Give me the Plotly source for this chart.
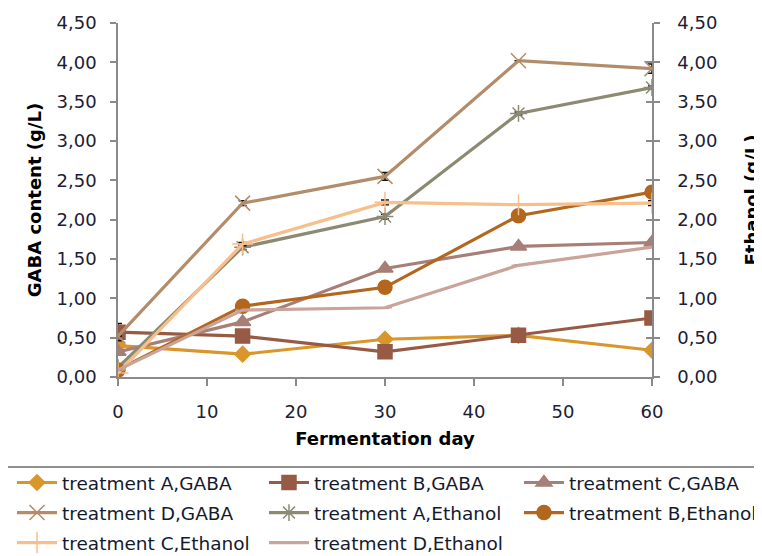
import plotly.graph_objects as go

days = [0, 14, 30, 45, 60]

gaba_a = [0.40, 0.29, 0.48, 0.53, 0.34]
gaba_b = [0.57, 0.52, 0.32, 0.53, 0.75]
gaba_c = [0.32, 0.70, 1.38, 1.66, 1.71]
gaba_d = [0.52, 2.21, 2.55, 4.02, 3.92]
eth_a = [0.12, 1.65, 2.04, 3.35, 3.68]
eth_b = [0.09, 0.90, 1.14, 2.05, 2.35]
eth_c = [0.05, 1.69, 2.22, 2.19, 2.21]
eth_d = [0.09, 0.85, 0.88, 1.42, 1.65]

err_gaba_a = [0.0, 0.02, 0.0, 0.0, 0.0]
err_gaba_b = [0.11, 0.0, 0.0, 0.0, 0.0]
err_gaba_c = [0.0, 0.0, 0.0, 0.0, 0.03]
err_gaba_d = [0.0, 0.03, 0.05, 0.0, 0.06]
err_eth_a = [0.0, 0.03, 0.03, 0.02, 0.02]
err_eth_b = [0.0, 0.0, 0.0, 0.0, 0.0]
err_eth_c = [0.0, 0.02, 0.03, 0.0, 0.03]
err_eth_d = [0.0, 0.0, 0.0, 0.0, 0.0]

names = ["treatment A,GABA", "treatment B,GABA", "treatment C,GABA", "treatment D,GABA",
         "treatment A,Ethanol", "treatment B,Ethanol", "treatment C,Ethanol", "treatment D,Ethanol"]

series = [
    (gaba_a, err_gaba_a, "#D9962A", "diamond", 12, "y"),
    (gaba_b, err_gaba_b, "#975A45", "square", 14, "y"),
    (gaba_c, err_gaba_c, "#A77F77", "triangle-up", 14, "y"),
    (gaba_d, err_gaba_d, "#B38D6A", "x-thin-open", 15, "y"),
    (eth_a, err_eth_a, "#8C8A72", "asterisk-open", 14, "y2"),
    (eth_b, err_eth_b, "#B3661E", "circle", 14, "y2"),
    (eth_c, err_eth_c, "#F6BF8C", "cross-thin-open", 15, "y2"),
    (eth_d, err_eth_d, "#C9A49B", "line-ew-open", 10, "y2"),
]

# legend column for each trace (3 columns, filled row by row)
legend_cols = ["legend", "legend2", "legend3", "legend", "legend2", "legend3", "legend", "legend2"]

fig = go.Figure()
for i, (name, (vals, err, col, sym, sz, ax)) in enumerate(zip(names, series)):
    fig.add_trace(go.Scatter(
        x=days, y=vals, name=name, yaxis=ax, mode="lines+markers",
        legend=legend_cols[i], legendgroup="g%d" % i,
        line=dict(color=col, width=3.2),
        marker=dict(symbol=sym, size=sz, color=col, line=dict(color=col, width=1.5)),
        error_y=dict(type="data", array=err, color="#111111", thickness=1.5, width=4),
    ))
fig.add_trace(go.Scatter(x=[None], y=[None], yaxis="y3", showlegend=False, hoverinfo="skip"))

tickfont = dict(family="DejaVu Sans", size=18, color="#1c2033")
titlefont = dict(family="DejaVu Sans", size=18, color="#000000", weight="bold")
axcol = "#8a8a8a"

legfont = dict(family="DejaVu Sans", size=18.5, color="#141a2e")
def leg(x):
    return dict(orientation="v", x=x, xanchor="left", y=-0.2457, yanchor="top",
                bgcolor="rgba(0,0,0,0)", borderwidth=0, font=legfont,
                traceorder="grouped", tracegroupgap=3, itemwidth=40)

fig.update_layout(
    width=762, height=556,
    paper_bgcolor="white", plot_bgcolor="white",
    separators=",.",
    margin=dict(l=110, r=118, t=15, b=187, autoexpand=False),
    showlegend=True,
    xaxis=dict(range=[0, 60], dtick=10, tick0=0, showgrid=False, zeroline=False,
               showline=True, linecolor=axcol, linewidth=1.5,
               ticks="outside", ticklen=7, tickcolor=axcol, tickwidth=1.5,
               tickfont=tickfont, ticklabelstandoff=11,
               title=dict(text="Fermentation day", font=titlefont, standoff=11)),
    yaxis=dict(range=[0, 4.5], dtick=0.5, tick0=0, tickformat=".2f", showgrid=False,
               zeroline=False, showline=True, linecolor=axcol, linewidth=1.5,
               ticks="outside", ticklen=6, tickcolor=axcol, tickwidth=1.5,
               tickfont=tickfont, ticklabelstandoff=10,
               title=dict(text="GABA content (g/L)", font=titlefont, standoff=10)),
    yaxis2=dict(range=[0, 4.5], dtick=0.5, tick0=0, tickformat=".2f", showgrid=False,
                zeroline=False, showline=True, linecolor=axcol, linewidth=1.5,
                overlaying="y", side="right", anchor="x",
                ticks="outside", ticklen=6, tickcolor=axcol, tickwidth=1.5,
                tickfont=tickfont, ticklabelstandoff=14,
                title=dict(text="Ethanol (g/L)", font=titlefont, standoff=29)),
    yaxis3=dict(range=[0, 4.5], dtick=0.5, tick0=0, showgrid=False, zeroline=False,
                overlaying="y", side="right", anchor="x", showticklabels=False,
                ticks="inside", ticklen=6, tickcolor=axcol, tickwidth=1.5),
    legend=leg(-0.1985),
    legend2=leg(0.2734),
    legend3=leg(0.7509),
    shapes=[dict(type="rect", xref="paper", yref="paper", x0=-0.2116, x1=1.4,
                 y0=-0.2542, y1=-0.7, line=dict(color="#222222", width=1.2),
                 fillcolor="rgba(0,0,0,0)", layer="above")],
)

fig.write_html("out.html")
